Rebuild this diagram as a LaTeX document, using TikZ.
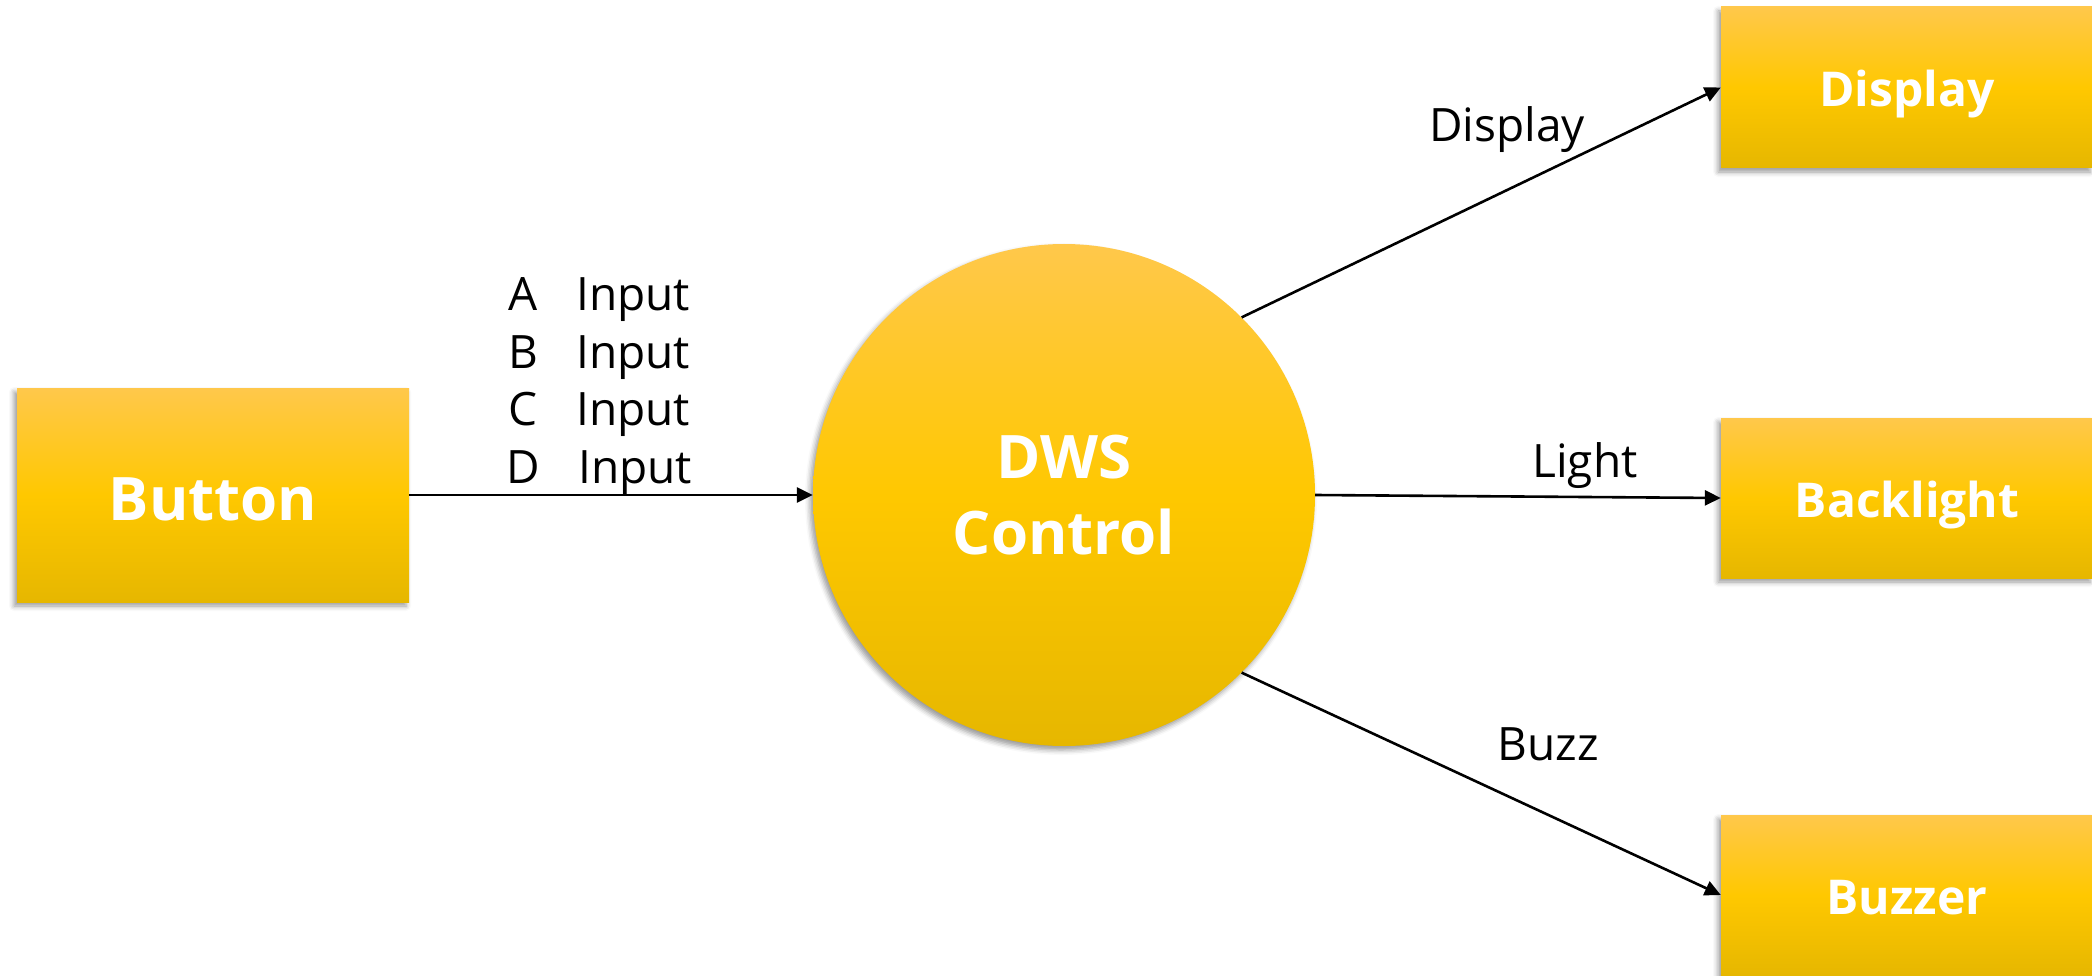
\documentclass[tikz,border=0pt]{standalone}
\usepackage{fontspec}
\setmainfont{Open Sans}
\usetikzlibrary{arrows.meta,shadows.blur}
\definecolor{ytop}{HTML}{FFC84B}
\definecolor{ymid}{HTML}{FFC800}
\definecolor{ybot}{HTML}{E6B700}
\begin{document}
\begin{tikzpicture}[x=1pt,y=-1pt,
  yfill/.style={top color=ytop,bottom color=ybot,middle color=ymid,draw=none,
    blur shadow={shadow xshift=-3pt,shadow yshift=-4pt,shadow blur radius=5pt,shadow opacity=40}},
  blk/.style={yfill,rectangle,inner sep=0pt,text=white,font=\bfseries\fontsize{48}{56}\selectfont,
    minimum width=372pt,minimum height=160pt,text height=39pt,text depth=0pt},
  conn/.style={line width=2.6pt,-{Triangle[length=16pt,width=15pt]}},
  lbl/.style={inner sep=0pt,anchor=base,font=\fontsize{46}{52}\selectfont},
  inlbl/.style={inner sep=0pt,anchor=base west,font=\fontsize{46}{52}\selectfont}]
\useasboundingbox (0,0) rectangle (2092,976);
\clip (0,0) rectangle (2092,976);
\node[yfill,rectangle,inner sep=0pt,minimum width=392pt,minimum height=214pt,text=white,
  font=\bfseries\fontsize{60}{70}\selectfont,text height=50pt,text depth=0pt] (btn) at (213,495) {Button};
\node[yfill,circle,inner sep=0pt,minimum size=502pt,text=white,align=center,
  font=\bfseries\fontsize{60}{76}\selectfont] (circ) at (1064,495) {\raisebox{-4pt}{DWS}\\\raisebox{-4pt}{Control}};
\node[blk,minimum height=161pt] (disp) at (1907,87.5) {Display};
\node[blk] (back) at (1907,498) {Backlight};
\node[blk] (buzz) at (1907,895) {Buzzer};
\draw[conn] (btn.east) -- (circ.west);
\draw[conn] (circ.45) -- (disp.west);
\draw[conn] (circ.east) -- (back.west);
\draw[conn] (circ.-45) -- (buzz.west);
\node[inlbl] (la) at (508,310) {\makebox[68pt][l]{\makebox[30pt]{A}}Input};
\node[inlbl] (lb) at (508,368) {\makebox[68pt][l]{\makebox[30pt]{B}}Input};
\node[inlbl] (lc) at (508,425) {\makebox[68pt][l]{\makebox[30pt]{C}}Input};
\node[inlbl] (ld) at (508,483) {\makebox[70pt][l]{\makebox[30pt]{D}}Input};
\node[lbl] (ldisp) at (1507,142) {Display};
\node[lbl] (llight) at (1585,477) {Light};
\node[lbl] (lbuzz) at (1548,760) {Buzz};
\end{tikzpicture}
\end{document}
